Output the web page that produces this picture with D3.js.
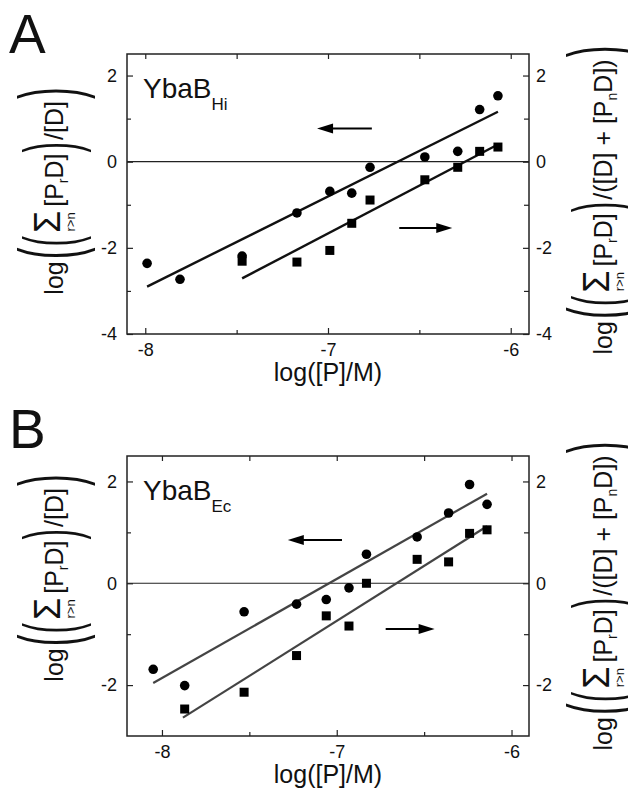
<!DOCTYPE html>
<html>
<head>
<meta charset="utf-8">
<script src="https://cdn.jsdelivr.net/npm/d3@7"></script>
<style>
  body { margin: 0; background: #fff; }
  svg { display: block; }
  text { font-family: "Liberation Sans", Arial, Helvetica, sans-serif; fill: #111; }
</style>
</head>
<body>
<div id="chart"></div>
<script>
(function() {
    // Panel A (YbaB Hi)
    var xA_circles = [-7.99, -7.81, -7.47, -7.17, -6.99, -6.87, -6.77, -6.47, -6.29, -6.17, -6.07];
    var yA_circles = [-2.36, -2.73, -2.19, -1.19, -0.69, -0.73, -0.13, 0.11, 0.24, 1.21, 1.53];
    var xA_squares = [-7.47, -7.17, -6.99, -6.87, -6.77, -6.47, -6.29, -6.17, -6.07];
    var yA_squares = [-2.31, -2.33, -2.06, -1.43, -0.89, -0.42, -0.13, 0.24, 0.34];
    var fitA_circles = [[-7.99, -2.90], [-6.07, 1.16]];
    var fitA_squares = [[-7.47, -2.71], [-6.07, 0.40]];
    var arrowsA = [[-6.76, -7.06, 0.77], [-6.61, -6.32, -1.54]];   // x from, x to, y

    // Panel B (YbaB Ec)
    var xB_circles = [-8.05, -7.87, -7.53, -7.23, -7.06, -6.93, -6.83, -6.54, -6.36, -6.24, -6.14];
    var yB_circles = [-1.69, -2.01, -0.56, -0.41, -0.32, -0.09, 0.57, 0.91, 1.38, 1.94, 1.55];
    var xB_squares = [-7.87, -7.53, -7.23, -7.06, -6.93, -6.83, -6.54, -6.36, -6.24, -6.14];
    var yB_squares = [-2.47, -2.14, -1.42, -0.64, -0.84, 0.00, 0.47, 0.42, 0.98, 1.05];
    var fitB_circles = [[-8.05, -1.96], [-6.14, 1.76]];
    var fitB_squares = [[-7.88, -2.64], [-6.14, 1.12]];
    var arrowsB = [[-6.97, -7.28, 0.85], [-6.72, -6.44, -0.90]];

    // ticks
    var xTicks = [-8, -7, -6];
    var xMinor = [-7.5, -6.5];
    var yTicksA = [-4, -2, 0, 2];
    var yMinorA = [-3, -1, 1];
    var yTicksB = [-2, 0, 2];
    var yMinorB = [-1, 1];

    var width = 628, height = 789;
    var svg = d3.select('#chart').append('svg')
        .attr('width', width)
        .attr('height', height);

    var zip = (xs, ys) => xs.map((x, i) => [x, ys[i]]);

    var panels = [
        {
            letter: 'A', letterY: 53, top: 54, bottom: 334, left: 127, right: 529,
            xDomain: [-8.1, -5.9], yDomain: [-4, 2.5],
            yTicks: yTicksA, yMinor: yMinorA,
            circles: zip(xA_circles, yA_circles), squares: zip(xA_squares, yA_squares),
            fits: [fitA_circles, fitA_squares], arrows: arrowsA,
            name: 'Hi', lineColor: '#111', lineWidth: 2.4,
            leftMid: 191, rightMid: 200
        },
        {
            letter: 'B', letterY: 448, top: 456, bottom: 736, left: 127, right: 529,
            xDomain: [-8.2, -5.9], yDomain: [-3, 2.5],
            yTicks: yTicksB, yMinor: yMinorB,
            circles: zip(xB_circles, yB_circles), squares: zip(xB_squares, yB_squares),
            fits: [fitB_circles, fitB_squares], arrows: arrowsB,
            name: 'Ec', lineColor: '#444', lineWidth: 2.2,
            leftMid: 578, rightMid: 596
        }
    ];

    // builds the stacked rotated y label: log( ( Σ [PrD] ) tail ), centred on yMid
    function yLabel(xBase, yMid, tail) {
        var outer = svg.append('g');
        var g = outer.append('g');
        var pos = 0;

        function paren(ch, size, base, sx, gap) {
            pos += gap || 0;
            var t = g.append('text')
                .attr('transform', `translate(${pos},${base}) scale(${sx},1)`)
                .style('font-size', size + 'px')
                .style('font-weight', 300)
                .text(ch);
            pos += t.node().getComputedTextLength() * sx;
        }

        var t = g.append('text').attr('x', pos).style('font-size', '25px').text('log');
        pos += t.node().getComputedTextLength();
        paren('(', 84, 15, 0.42, 2);
        paren('(', 75, 13, 0.42, 1);
        pos += 3;

        var s = g.append('text').attr('x', pos).attr('y', -3).style('font-size', '36px').text('Σ');
        var sw = s.node().getComputedTextLength();
        g.append('text').attr('x', pos + sw / 2).attr('y', 12)
            .attr('text-anchor', 'middle').style('font-size', '13px').text('r>n');
        pos += sw + 4;

        var p = g.append('text').attr('x', pos).style('font-size', '25px');
        p.append('tspan').text('[P');
        p.append('tspan').style('font-size', '14px').attr('dy', 5).text('r');
        p.append('tspan').attr('dy', -5).text('D]');
        pos += p.node().getComputedTextLength();
        paren(')', 75, 13, 0.42, 1);
        pos += 2;

        var q = g.append('text').attr('x', pos).style('font-size', '25px');
        tail.forEach(function(seg) {
            var sp = q.append('tspan').text(seg.t);
            if (seg.sub) sp.style('font-size', '14px').attr('dy', 5);
            if (seg.up) sp.attr('dy', -5);
        });
        pos += q.node().getComputedTextLength();
        paren(')', 84, 15, 0.42, 2);

        outer.attr('transform', `translate(${xBase},${yMid + pos / 2}) rotate(-90)`);
    }

    var fmt = d => String(d);

    panels.forEach(function(P) {
        var x = d3.scaleLinear().domain(P.xDomain).range([P.left, P.right]);
        var y = d3.scaleLinear().domain(P.yDomain).range([P.bottom, P.top]);
        var g = svg.append('g');

        // panel letter
        svg.append('text').attr('x', 9).attr('y', P.letterY)
            .style('font-size', '55px').text(P.letter);

        // axes: major ticks with labels, minor ticks without, all pointing inward
        function styleAxis(sel) {
            sel.select('.domain').remove();
            sel.selectAll('line').attr('stroke', '#222').attr('stroke-width', 1.2);
            sel.selectAll('text').style('font-size', '18px')
                .style('font-family', '"Liberation Sans", Arial, sans-serif').attr('fill', '#111');
        }
        g.append('g').attr('transform', `translate(0,${P.bottom})`)
            .call(d3.axisBottom(x).tickValues(xTicks).tickSizeInner(-6).tickSizeOuter(0).tickPadding(9).tickFormat(fmt))
            .call(styleAxis);
        g.append('g').attr('transform', `translate(0,${P.bottom})`)
            .call(d3.axisBottom(x).tickValues(xMinor).tickSizeInner(-4).tickSizeOuter(0).tickFormat(''))
            .call(styleAxis);
        g.append('g').attr('transform', `translate(0,${P.top})`)
            .call(d3.axisTop(x).tickValues(xTicks.concat(xMinor)).tickSizeInner(-5).tickSizeOuter(0).tickFormat(''))
            .call(styleAxis);
        g.append('g').attr('transform', `translate(${P.left},0)`)
            .call(d3.axisLeft(y).tickValues(P.yTicks).tickSizeInner(-6).tickSizeOuter(0).tickPadding(10).tickFormat(fmt))
            .call(styleAxis);
        g.append('g').attr('transform', `translate(${P.left},0)`)
            .call(d3.axisLeft(y).tickValues(P.yMinor).tickSizeInner(-4).tickSizeOuter(0).tickFormat(''))
            .call(styleAxis);
        g.append('g').attr('transform', `translate(${P.right},0)`)
            .call(d3.axisRight(y).tickValues(P.yTicks).tickSizeInner(-6).tickSizeOuter(0).tickPadding(7).tickFormat(fmt))
            .call(styleAxis);
        g.append('g').attr('transform', `translate(${P.right},0)`)
            .call(d3.axisRight(y).tickValues(P.yMinor).tickSizeInner(-5).tickSizeOuter(0).tickFormat(''))
            .call(styleAxis);

        // frame
        g.append('rect')
            .attr('x', P.left).attr('y', P.top)
            .attr('width', P.right - P.left).attr('height', P.bottom - P.top)
            .attr('fill', 'none').attr('stroke', '#222').attr('stroke-width', 1.5);

        // zero line
        g.append('line')
            .attr('x1', P.left).attr('x2', P.right)
            .attr('y1', y(0)).attr('y2', y(0))
            .attr('stroke', '#222').attr('stroke-width', 1.2);

        // fit lines
        var line = d3.line().x(d => x(d[0])).y(d => y(d[1]));
        g.selectAll('path.fit').data(P.fits).enter().append('path')
            .attr('class', 'fit')
            .attr('d', line)
            .attr('fill', 'none')
            .attr('stroke', P.lineColor)
            .attr('stroke-width', P.lineWidth);

        // markers
        g.selectAll('circle.pt').data(P.circles).enter().append('circle')
            .attr('class', 'pt')
            .attr('cx', d => x(d[0])).attr('cy', d => y(d[1]))
            .attr('r', 4.8).attr('fill', '#000');
        var sq = 9;
        g.selectAll('rect.pt').data(P.squares).enter().append('rect')
            .attr('class', 'pt')
            .attr('x', d => x(d[0]) - sq / 2).attr('y', d => y(d[1]) - sq / 2)
            .attr('width', sq).attr('height', sq).attr('fill', '#000');

        // arrows
        P.arrows.forEach(function(a) {
            var x0 = x(a[0]), x1 = x(a[1]), yy = y(a[2]);
            var dir = x1 > x0 ? 1 : -1;
            var head = 16;
            g.append('line')
                .attr('x1', x0).attr('x2', x1 - dir * head + dir * 2)
                .attr('y1', yy).attr('y2', yy)
                .attr('stroke', '#000').attr('stroke-width', 2);
            g.append('path')
                .attr('d', `M${x1},${yy} L${x1 - dir * head},${yy - 5} L${x1 - dir * head},${yy + 5} Z`)
                .attr('fill', '#000');
        });

        // protein name
        var nm = svg.append('text').attr('x', P.left + 16).attr('y', P.top + 44).style('font-size', '28px');
        nm.append('tspan').text('YbaB');
        nm.append('tspan').attr('dy', 12).style('font-size', '17px').text(P.name);

        // x axis label
        svg.append('text')
            .attr('x', (P.left + P.right) / 2).attr('y', P.bottom + 47)
            .attr('text-anchor', 'middle')
            .style('font-size', '25px')
            .text('log([P]/M)');

        // y axis labels
        yLabel(63, P.leftMid, [{ t: '/[D]' }]);
        yLabel(612, P.rightMid, [{ t: '/([D] + [P' }, { t: 'n', sub: true }, { t: 'D])', up: true }]);
    });
})();
</script>
</body>
</html>
